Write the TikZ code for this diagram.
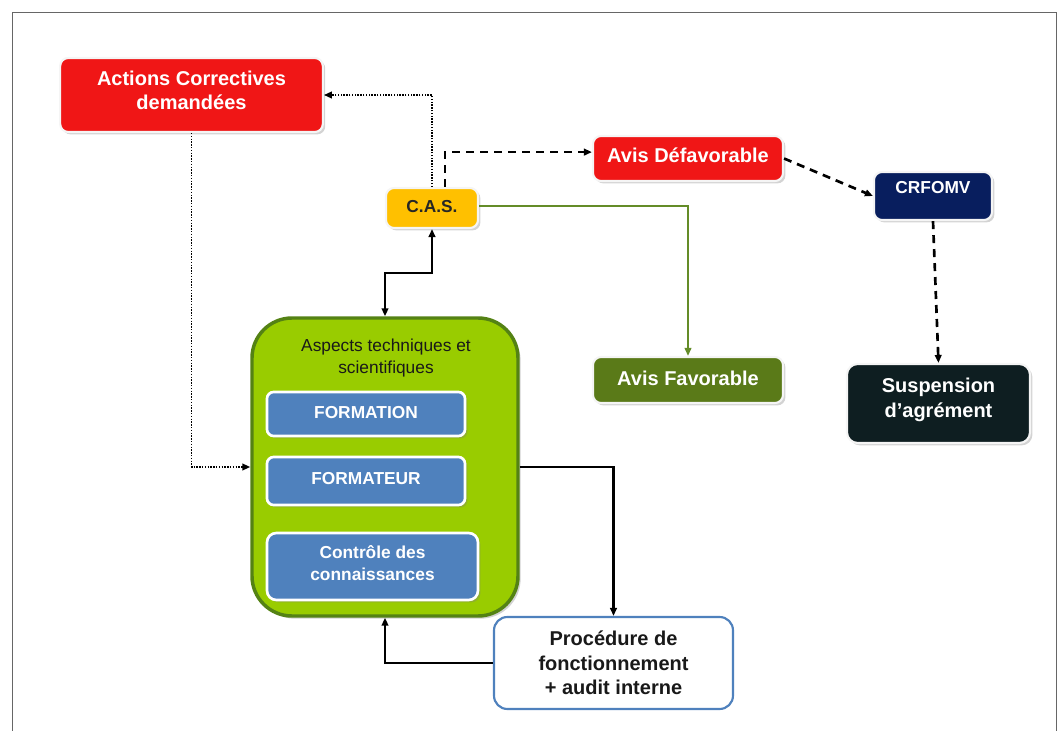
\documentclass[tikz,border=0pt]{standalone}
\usepackage{fontspec}
\setmainfont{Liberation Sans}
\usetikzlibrary{arrows.meta,shadows}
\definecolor{cred}{RGB}{240,22,22}
\definecolor{cyel}{RGB}{255,192,0}
\definecolor{cnavy}{RGB}{8,30,94}
\definecolor{colive}{RGB}{90,122,24}
\definecolor{cdark}{RGB}{14,30,33}
\definecolor{clime}{RGB}{153,204,0}
\definecolor{cgborder}{RGB}{84,130,20}
\definecolor{cblue}{RGB}{79,129,189}
\definecolor{cgline}{RGB}{100,140,40}
\tikzset{
  box/.style={rounded corners=6pt, draw=white!92!gray, line width=1.6pt, inner sep=0pt, align=center,
    drop shadow={shadow xshift=1.8pt, shadow yshift=-1.8pt, opacity=0.35, fill=gray}},
  bigtxt/.style={font=\fontsize{15}{18.5}\selectfont\bfseries},
  smalltxt/.style={font=\fontsize{13}{16.5}\selectfont\bfseries},
  bluebox/.style={box, fill=cblue, draw=white, line width=2pt, text=white, smalltxt, rounded corners=5pt},
  tip/.style={-{Triangle[length=6pt,width=5pt]}},
  dotline/.style={tip, line width=1.4pt, dash pattern=on 1pt off 1.1pt},
  dashline/.style={tip, line width=2pt, dash pattern=on 6pt off 4.5pt},
  blackline/.style={line width=1.9pt, black},
}
\begin{document}
\begin{tikzpicture}[x=0.75pt,y=-0.75pt]
\useasboundingbox (0,0) rectangle (1058,731);
\draw[line width=1.2pt, black!60] (12.5,731) -- (12.5,12.5) -- (1056.5,12.5) -- (1056.5,731);

% nodes
\node[box, fill=cred, text=white, bigtxt, text depth=7pt, minimum width=197pt, minimum height=55.5pt] (act) at (191.5,95) {Actions Correctives\\demandées};
\node[box, fill=cyel, text=black!85, smalltxt, text depth=3pt, minimum width=69pt, minimum height=30pt] (cas) at (432,208) {C.A.S.};
\node[box, fill=cred, text=white, bigtxt, text depth=4.5pt, minimum width=142.5pt, minimum height=33.75pt] (def) at (688,158.5) {Avis Défavorable};
\node[box, fill=cnavy, text=white, smalltxt, text depth=13pt, minimum width=88.5pt, minimum height=36pt] (crf) at (933,196) {CRFOMV};
\node[box, fill=colive, text=white, bigtxt, text depth=3pt, minimum width=142.5pt, minimum height=34.5pt] (fav) at (688,380) {Avis Favorable};
\node[box, fill=cdark, text=white, bigtxt, text depth=9pt, minimum width=137.25pt, minimum height=59.25pt, rounded corners=8pt] (susp) at (938.5,403.5) {Suspension\\d’agrément};

\node[rounded corners=30pt, fill=clime, draw=cgborder, line width=2.6pt, minimum width=199.5pt, minimum height=223.5pt,
  drop shadow={shadow xshift=2pt, shadow yshift=-2pt, opacity=0.35, fill=gray}] (grp) at (385,467) {};
\node[font=\fontsize{13}{15.8}\selectfont, text=black!90, align=center] (asp) at (386,358) {Aspects techniques et\\scientifiques};
\node[bluebox, text depth=3pt, minimum width=148.5pt, minimum height=33pt] (form) at (366,414) {FORMATION};
\node[bluebox, text depth=4.5pt, minimum width=148.5pt, minimum height=36pt] (fmtr) at (366,481) {FORMATEUR};
\node[bluebox, text depth=4.5pt, minimum width=158.25pt, minimum height=50.25pt, rounded corners=7pt] (ctrl) at (372.5,566.5) {Contrôle des\\connaissances};

\node[rounded corners=10pt, fill=white, draw=cblue, line width=1.6pt, text=black!90, align=center,
  font=\fontsize{15}{18.4}\selectfont\bfseries, minimum width=179.25pt, minimum height=69pt] (proc) at (613.5,663) {Procédure de\\fonctionnement\\+ audit interne};

% connectors
\draw[dotline] (cas.north) |- (act.east);
\draw[dotline] (act.south) |- (grp.west);
\draw[dashline] ([xshift=9.75pt]cas.north) |- ([yshift=4.8pt]def.west);
\draw[dashline] (def.east) -- (crf.west);
\draw[dashline] (crf.south) -- (susp.north);
\draw[tip, line width=1.3pt, cgline] ([yshift=1.5pt]cas.east) -| (fav.north);
\draw[blackline, {Triangle[length=6pt,width=5pt]}-{Triangle[length=6pt,width=5pt]}] (cas.south) -- ++(0,44) -| (grp.north);
\draw[blackline, tip] (grp.east) -| (proc.north);
\draw[blackline, tip] (proc.west) -| (grp.south);
\end{tikzpicture}
\end{document}
